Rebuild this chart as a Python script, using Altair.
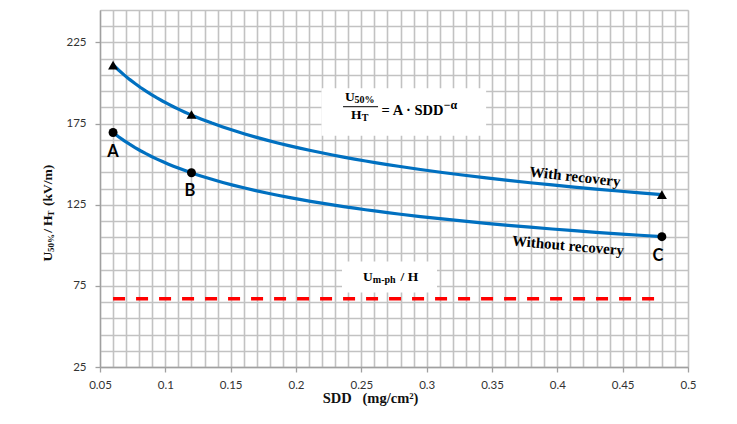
import altair as alt
import pandas as pd

# ---- data ----
sdd = [0.06, 0.12, 0.48]
with_recovery = [211.0, 180.6, 131.2]
without_recovery = [169.5, 144.7, 105.3]
point_letters = ["A", "B", "C"]
um_x = [0.06, 0.48]
um_y = [67.0, 67.0]

x_labels = [0.05, 0.1, 0.15, 0.2, 0.25, 0.3, 0.35, 0.4, 0.45, 0.5]
y_labels = [25, 75, 125, 175, 225]
x_grid = [round(0.05 + 0.01 * i, 2) for i in range(46)]
y_grid = [25 + 10 * i for i in range(23)]

SERIF = "Liberation Serif"
SANS = "Lato"
BLUE = "#0070C0"
GRID = "#c2c2c2"

pts = pd.DataFrame({
    "sdd": sdd * 2,
    "value": with_recovery + without_recovery,
    "series": ["With recovery"] * 3 + ["Without recovery"] * 3,
})

x_scale = alt.Scale(domain=[0.05, 0.5], nice=False, zero=False)
y_scale = alt.Scale(domain=[25, 245], nice=False, zero=False)

x_test = "abs(datum.value*20 - round(datum.value*20)) < 0.000001"
y_test = "(datum.value - 25) % 50 == 0"

x_axis = alt.Axis(
    values=x_grid, tickCount=500, grid=True, gridColor=GRID, gridWidth=1.6,
    domainColor="#a0a0a0", domainWidth=1.3, tickColor="#a0a0a0", tickSize=5,
    tickWidth=1.3,
    tickOpacity={"condition": {"test": x_test, "value": 1}, "value": 0},
    labelExpr=f"{x_test} ? toString(round(datum.value*100)/100) : ''",
    labelFont=SANS, labelFontSize=11.5, labelColor="#333333",
    labelPadding=7, labelOverlap=False, labelFlush=False,
    title="SDD\u00a0\u00a0\u00a0(mg/cm\u00b2)", titleFont=SERIF, titleFontSize=14.5,
    titleFontWeight="bold", titleColor="#111111", titleX=270, titleY=35,
    titleBaseline="alphabetic", titleAlign="center",
)
y_axis = alt.Axis(
    values=y_grid, tickCount=500, grid=True, gridColor=GRID, gridWidth=1.6,
    domainColor="#a0a0a0", domainWidth=1.3, tickColor="#a0a0a0", tickSize=5,
    tickWidth=1.3,
    tickOpacity={"condition": {"test": y_test, "value": 1}, "value": 0},
    labelExpr=f"{y_test} ? toString(datum.value) : ''",
    labelFont=SANS, labelFontSize=11.5, labelColor="#333333",
    labelPadding=9, labelOverlap=False, labelFlush=False,
    title=None,
)

# axis carrier (invisible)
carrier = alt.Chart(pts).mark_point(opacity=0).encode(
    x=alt.X("sdd:Q", scale=x_scale, axis=x_axis),
    y=alt.Y("value:Q", scale=y_scale, axis=y_axis),
)

# white annotation boxes
boxes = pd.DataFrame({
    "x1": [0.2195, 0.2352], "x2": [0.3455, 0.3079],
    "y1": [167.5, 70.9], "y2": [196.8, 90.0],
})
box_layer = alt.Chart(boxes).mark_rect(color="white").encode(
    x="x1:Q", x2="x2:Q", y="y1:Q", y2="y2:Q"
)

# red dashed U m-ph / H line
um = pd.DataFrame({"sdd": um_x, "value": um_y})
um_line = alt.Chart(um).mark_line(
    color="#FF0000", strokeWidth=3.5, strokeDash=[12, 11]
).encode(x="sdd:Q", y="value:Q")

# fitted power curves U50/H = A*SDD^-alpha
curves = alt.Chart(pts).transform_regression(
    "sdd", "value", method="pow", groupby=["series"], extent=[0.06, 0.48]
).mark_line(color=BLUE, strokeWidth=3.2).encode(
    x="sdd:Q", y="value:Q", detail="series:N"
)

tri = alt.Chart(pd.DataFrame({"sdd": sdd, "value": with_recovery})).mark_point(
    shape="triangle-up", filled=True, color="black", size=100, opacity=1
).encode(x="sdd:Q", y="value:Q")
circ = alt.Chart(pd.DataFrame({"sdd": sdd, "value": without_recovery})).mark_point(
    shape="circle", filled=True, color="black", size=80, opacity=1
).encode(x="sdd:Q", y="value:Q")

# letters A B C
letters = pd.DataFrame({"sdd": [0.0599, 0.1189, 0.477], "value": [157.2, 133.5, 93.7],
                        "t": point_letters})
letter_layer = alt.Chart(letters).mark_text(
    font=SANS, fontSize=16.5, fontWeight="bold", color="black",
    align="center", baseline="middle"
).encode(x="sdd:Q", y="value:Q", text="t:N")

# curve labels
def rotated(label, x, y, ang):
    return alt.Chart(pd.DataFrame({"sdd": [x], "value": [y], "t": [label]})).mark_text(
        font=SERIF, fontSize=15, fontWeight="bold", color="black",
        align="center", baseline="middle", angle=ang
    ).encode(x="sdd:Q", y="value:Q", text="t:N")

lab_with = rotated("With recovery", 0.4135, 142.4, 6.3)
lab_without = rotated("Without recovery", 0.4082, 99.9, 5)

# rich-text pieces (formula, U m-ph / H)
pieces = pd.DataFrame([
    # text, x, y, size
    ("U", 0.2375, 188.95, 13.5),
    ("50%", 0.2447, 187.4, 10),
    ("H", 0.2421, 177.9, 13.5),
    ("T", 0.2504, 176.3, 10),
    ("= A \u00b7 SDD", 0.2655, 180.0, 14.5),
    ("\u2212\u03b1", 0.3130, 184.2, 12),
    ("U", 0.2513, 78.0, 13.5),
    ("m-ph", 0.2588, 76.8, 10),
    ("/ H", 0.2800, 78.0, 13.5),
], columns=["t", "sdd", "value", "size"])
piece_layer = alt.Chart(pieces).mark_text(
    font=SERIF, fontWeight="bold", color="black", align="left", baseline="alphabetic"
).encode(
    x="sdd:Q", y="value:Q", text="t:N",
    size=alt.Size("size:Q", scale=None, legend=None),
)

frac = alt.Chart(pd.DataFrame({"a": [0.2360], "b": [0.2628], "value": [185.4]})).mark_rule(
    color="black", strokeWidth=1
).encode(x="a:Q", x2="b:Q", y="value:Q")

# y-axis title pieces (rotated), placed along the y scale
ytitle = pd.DataFrame([
    ("U", 90.04, 13.5, 0),
    ("50%", 95.9, 9, 2.5),
    ("/", 107.7, 13.5, 0),
    ("H", 111.9, 13.5, 0),
    ("T", 117.8, 9, 2.5),
    ("(kV/m)", 124.2, 13.5, 0),
], columns=["t", "value", "size", "shift"])
ytitle_main = alt.Chart(ytitle[ytitle["shift"] == 0]).mark_text(
    font=SERIF, fontWeight="bold", color="#111111", align="left",
    baseline="alphabetic", angle=270
).encode(
    x=alt.value(-48.3), y="value:Q", text="t:N",
    size=alt.Size("size:Q", scale=None, legend=None),
)
ytitle_sub = alt.Chart(ytitle[ytitle["shift"] != 0]).mark_text(
    font=SERIF, fontWeight="bold", color="#111111", align="left",
    baseline="alphabetic", angle=270
).encode(
    x=alt.value(-45.8), y="value:Q", text="t:N",
    size=alt.Size("size:Q", scale=None, legend=None),
)

chart = alt.layer(
    carrier, box_layer, um_line, curves, tri, circ, letter_layer,
    lab_with, lab_without, piece_layer, frac, ytitle_main, ytitle_sub
).properties(
    width=588, height=357,
    padding={"left": 92, "top": 2, "right": 40, "bottom": 48},
    autosize=alt.AutoSizeParams(type="none"),
).configure_view(stroke=None).configure(background="white")

chart.save("out.html", embed_options={"renderer": "svg", "actions": False})
